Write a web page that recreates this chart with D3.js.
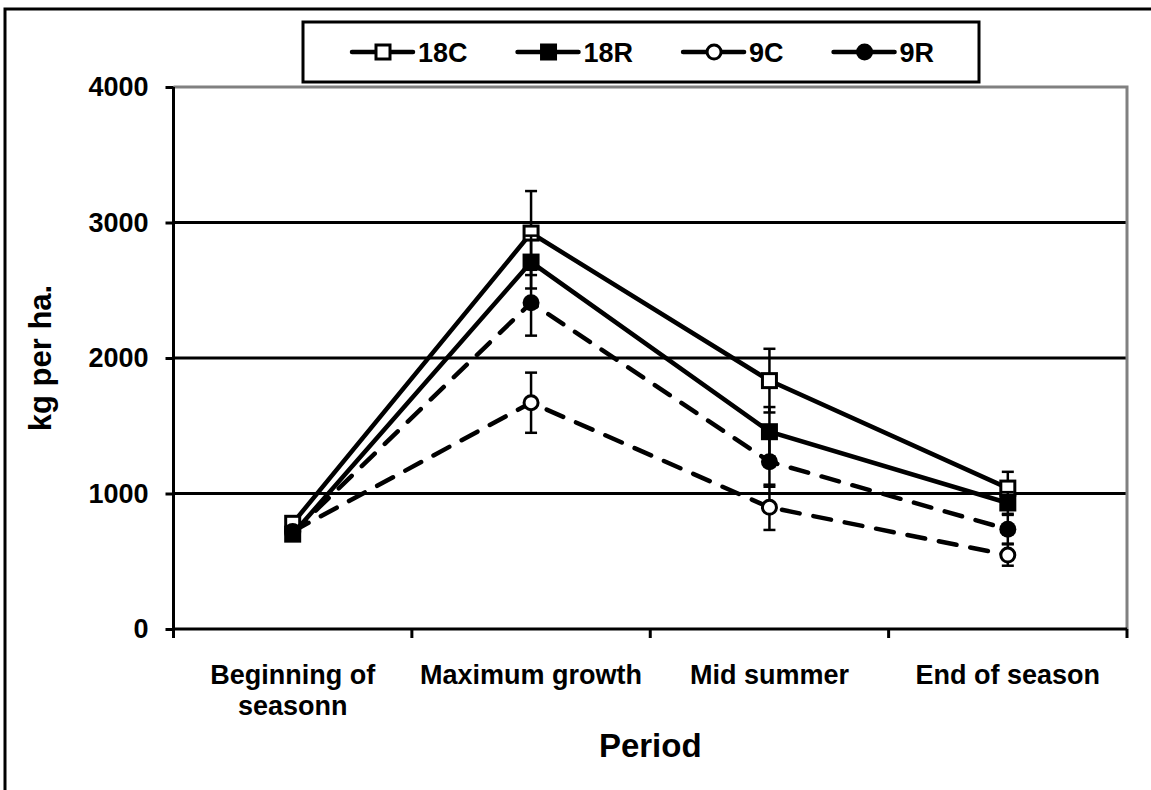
<!DOCTYPE html>
<html><head><meta charset="utf-8">
<script src="https://cdn.jsdelivr.net/npm/d3@7"></script>
<style>
body{margin:0;background:#fff}
svg{display:block}
text{font-family:"Liberation Sans",Arial,sans-serif;font-weight:bold;fill:#000}
</style>
</head><body>
<svg id="c" width="1151" height="790"></svg>
<script>
// ---- data ----
const categories = ["Beginning of seasonn", "Maximum growth", "Mid summer", "End of season"];
const seriesNames = ["18C", "18R", "9C", "9R"];
const v18C = [780, 2922, 1833, 1040];
const e18C = [40, 310, 235, 120];
const v18R = [700, 2708, 1456, 930];
const e18R = [40, 195, 182, 80];
const v9C = [720, 1670, 898, 546];
const e9C = [40, 222, 167, 79];
const v9R = [710, 2408, 1235, 736];
const e9R = [40, 243, 185, 106];
const yTicks = [0, 1000, 2000, 3000, 4000];
const yTitle = "kg per ha.";
const xTitle = "Period";

const series = [
  {name: seriesNames[0], vals: v18C, errs: e18C, shape: "square", filled: false, dashed: false},
  {name: seriesNames[1], vals: v18R, errs: e18R, shape: "square", filled: true, dashed: false},
  {name: seriesNames[2], vals: v9C, errs: e9C, shape: "circle", filled: false, dashed: true},
  {name: seriesNames[3], vals: v9R, errs: e9R, shape: "circle", filled: true, dashed: true}
];

const svg = d3.select("#c");
const L = 173.5, R = 1127, T = 87, B = 629;
const x = d3.scaleBand().domain(categories).range([L, R]);
const y = d3.scaleLinear().domain([0, 4000]).range([B, T]);

// outer frame
svg.append("rect").attr("x", 5).attr("y", 9).attr("width", 1300).attr("height", 1000)
  .attr("fill", "none").attr("stroke", "#000").attr("stroke-width", 3);

// gridlines
svg.append("g").selectAll("line").data(yTicks.filter(t => t > 0 && t < 4000)).join("line")
  .attr("x1", L).attr("x2", R).attr("y1", d => y(d)).attr("y2", d => y(d))
  .attr("stroke", "#000").attr("stroke-width", 3);

// plot border top/right (gray)
svg.append("path").attr("d", `M${L},${y(4000)}H${R}V${B}`)
  .attr("fill", "none").attr("stroke", "#808080").attr("stroke-width", 3);

// y axis
const yAx = svg.append("g").attr("transform", `translate(${L},0)`)
  .call(d3.axisLeft(y).tickValues(yTicks).tickSize(8).tickPadding(17).tickFormat(d3.format("d")));
yAx.select(".domain").attr("stroke", "#000").attr("stroke-width", 3).attr("d", `M0,${B + 9}V${T}`);
yAx.selectAll(".tick line").attr("stroke", "#000").attr("stroke-width", 3);
yAx.selectAll(".tick text").attr("font-size", 27).attr("font-family", "Liberation Sans, Arial, sans-serif").attr("font-weight", "bold");

// x axis line and boundary ticks
svg.append("line").attr("x1", L).attr("x2", R).attr("y1", B).attr("y2", B)
  .attr("stroke", "#000").attr("stroke-width", 3);
const bounds = categories.map(c => x(c)).concat([x(categories[categories.length - 1]) + x.bandwidth()]);
svg.append("g").selectAll("line").data(bounds).join("line")
  .attr("x1", d => d).attr("x2", d => d).attr("y1", B).attr("y2", B + 9)
  .attr("stroke", "#000").attr("stroke-width", 3);

// category labels (wrapped)
const catG = svg.append("g");
categories.forEach(c => {
  const cx = x(c) + x.bandwidth() / 2;
  const t = catG.append("text").attr("x", cx).attr("y", 684).attr("text-anchor", "middle").attr("font-size", 27);
  const words = c.split(" ");
  let line = [], lineNo = 0;
  let ts = t.append("tspan").attr("x", cx).attr("y", 684);
  words.forEach(w => {
    line.push(w);
    ts.text(line.join(" "));
    if (ts.node().getComputedTextLength() > x.bandwidth() - 6 && line.length > 1) {
      line.pop(); ts.text(line.join(" "));
      line = [w]; lineNo++;
      ts = t.append("tspan").attr("x", cx).attr("y", 684 + lineNo * 31).text(w);
    }
  });
});

// titles
svg.append("text").attr("x", (L + R) / 2).attr("y", 757).attr("text-anchor", "middle")
  .attr("font-size", 33).text(xTitle);
svg.append("text").attr("transform", `translate(51,${(T + B) / 2}) rotate(-90)`)
  .attr("text-anchor", "middle").attr("font-size", 31).text(yTitle);

// marker drawing
function marker(g, s, cx, cy) {
  if (s.shape === "square") {
    const sz = s.filled ? 17 : 14;
    g.append("rect").attr("x", cx - sz / 2).attr("y", cy - sz / 2).attr("width", sz).attr("height", sz)
      .attr("fill", s.filled ? "#000" : "#fff").attr("stroke", s.filled ? "none" : "#000").attr("stroke-width", 3);
  } else {
    g.append("circle").attr("cx", cx).attr("cy", cy).attr("r", s.filled ? 8.5 : 7)
      .attr("fill", s.filled ? "#000" : "#fff").attr("stroke", s.filled ? "none" : "#000").attr("stroke-width", 3);
  }
}

const cxOf = c => x(c) + x.bandwidth() / 2;
const lineGen = d3.line().x(d => cxOf(d.c)).y(d => y(d.v));

series.forEach(s => {
  const g = svg.append("g");
  const pts = categories.map((c, i) => ({c, v: s.vals[i], e: s.errs[i]}));
  // error bars
  pts.forEach(p => {
    const cx = cxOf(p.c);
    g.append("line").attr("x1", cx).attr("x2", cx).attr("y1", y(p.v - p.e)).attr("y2", y(p.v + p.e))
      .attr("stroke", "#000").attr("stroke-width", 2.5);
    [p.v - p.e, p.v + p.e].forEach(v => {
      g.append("line").attr("x1", cx - 6).attr("x2", cx + 6).attr("y1", y(v)).attr("y2", y(v))
        .attr("stroke", "#000").attr("stroke-width", 2.5);
    });
  });
  g.append("path").attr("d", lineGen(pts)).attr("fill", "none").attr("stroke", "#000")
    .attr("stroke-width", 4.5).attr("stroke-linecap", "round")
    .attr("stroke-dasharray", s.dashed ? "18,14" : null);
  pts.forEach(p => marker(g, s, cxOf(p.c), y(p.v)));
});

// legend
const lg = svg.append("g");
lg.append("rect").attr("x", 303).attr("y", 22).attr("width", 676).attr("height", 60)
  .attr("fill", "#fff").attr("stroke", "#000").attr("stroke-width", 3);
let lx = 352;
const ly = 52;
series.forEach(s => {
  const g = lg.append("g");
  g.append("line").attr("x1", lx).attr("x2", lx + 61).attr("y1", ly).attr("y2", ly)
    .attr("stroke", "#000").attr("stroke-width", 4.5).attr("stroke-linecap", "round");
  marker(g, s, lx + 31, ly);
  const t = g.append("text").attr("x", lx + 66).attr("y", ly + 10).attr("font-size", 27).text(s.name);
  lx = lx + 66 + t.node().getComputedTextLength() + 50;
});
</script>
</body></html>
